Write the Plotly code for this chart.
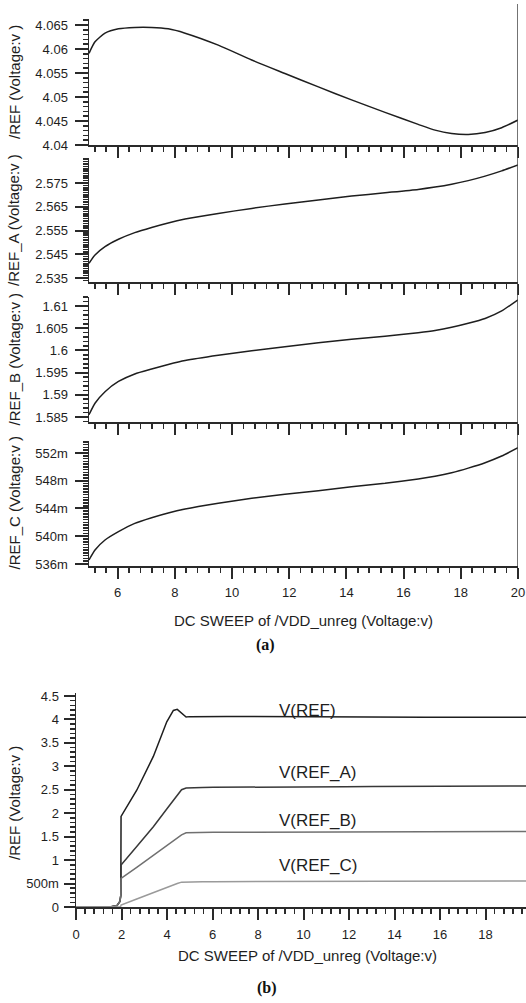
import plotly.graph_objects as go

W, H = 526, 1003

# ---------------- data: panel (a) ----------------
x_sweep = [5.0, 5.21, 5.56, 6.03, 6.6, 7.19, 7.77, 8.36, 9.52, 10.69, 11.85,
           13.02, 14.18, 15.35, 16.51, 17.1, 17.68, 18.26, 18.85, 19.43, 20.0]
v_ref = [4.0591, 4.0615, 4.0633, 4.0642, 4.0645, 4.0645, 4.0642, 4.0633, 4.0608,
         4.0577, 4.0549, 4.0521, 4.0494, 4.0468, 4.0443, 4.0431, 4.0424, 4.0422,
         4.0426, 4.0436, 4.0452]
v_ref_a = [2.5412, 2.5447, 2.5482, 2.5513, 2.5541, 2.5563, 2.5582, 2.5598, 2.5622,
           2.5643, 2.5662, 2.5678, 2.5695, 2.5709, 2.5723, 2.5733, 2.5745, 2.5760,
           2.5779, 2.5801, 2.5826]
v_ref_b = [1.5855, 1.5881, 1.5907, 1.5930, 1.5947, 1.5958, 1.5968, 1.5977, 1.5989,
           1.5999, 1.6008, 1.6017, 1.6025, 1.6032, 1.6040, 1.6045, 1.6052, 1.6061,
           1.6072, 1.6089, 1.6114]
v_ref_c = [0.53658, 0.53802, 0.53946, 0.54066, 0.54186, 0.54267, 0.54335, 0.54392,
           0.54475, 0.54547, 0.54604, 0.54656, 0.54714, 0.54763, 0.54825, 0.54865,
           0.54916, 0.54982, 0.55060, 0.55156, 0.55276]

# ---------------- data: panel (b) start-up part (x < 5) ----------------
x_start = [0.0, 1.5, 1.8, 1.93, 1.97, 1.98, 2.67, 3.40, 3.99, 4.28, 4.45, 4.64, 4.84]
s_ref = [0.0, 0.0, 0.03, 0.12, 0.25, 1.93, 2.49, 3.21, 3.95, 4.19, 4.215, 4.13, 4.05]
s_ref_a = [0.0, 0.0, 0.03, 0.12, 0.25, 0.895, 1.29, 1.71, 2.09, 2.27, 2.37, 2.50, 2.535]
s_ref_b = [0.0, 0.0, 0.03, 0.12, 0.25, 0.61, 0.846, 1.10, 1.31, 1.41, 1.48, 1.54, 1.583]
s_ref_c = [0.0, 0.0, 0.0, 0.0, 0.02, 0.04, 0.17, 0.31, 0.42, 0.47, 0.50, 0.53, 0.535]

# ---------------- tick labels ----------------
xa_tickvals = [6, 8, 10, 12, 14, 16, 18, 20]
xa_ticktext = ["6", "8", "10", "12", "14", "16", "18", "20"]
xb_tickvals = [0, 2, 4, 6, 8, 10, 12, 14, 16, 18, 20]
xb_ticktext = ["0", "2", "4", "6", "8", "10", "12", "14", "16", "18", "20"]
y1_tickvals = [4.04, 4.045, 4.05, 4.055, 4.06, 4.065]
y1_ticktext = ["4.04", "4.045", "4.05", "4.055", "4.06", "4.065"]
y2_tickvals = [2.535, 2.545, 2.555, 2.565, 2.575]
y2_ticktext = ["2.535", "2.545", "2.555", "2.565", "2.575"]
y3_tickvals = [1.585, 1.59, 1.595, 1.6, 1.605, 1.61]
y3_ticktext = ["1.585", "1.59", "1.595", "1.6", "1.605", "1.61"]
y4_tickvals = [0.536, 0.540, 0.544, 0.548, 0.552]
y4_ticktext = ["536m", "540m", "544m", "548m", "552m"]
yb_tickvals = [0, 0.5, 1, 1.5, 2, 2.5, 3, 3.5, 4, 4.5]
yb_ticktext = ["0", "500m", "1", "1.5", "2", "2.5", "3", "3.5", "4", "4.5"]

panel_a_titles = ["/REF (Voltage:v )", "/REF_A (Voltage:v )",
                  "/REF_B (Voltage:v )", "/REF_C (Voltage:v )"]
labels_b = ["V(REF)", "V(REF_A)", "V(REF_B)", "V(REF_C)"]
label_b_y = [4.20, 2.86, 1.855, 0.895]
x_title = "DC SWEEP of /VDD_unreg (Voltage:v)"


# ---------------- helpers ----------------
def px_x(p):
    return p / W


def px_y(p):
    return 1 - p / H


def minor_vals(start, stop, step):
    n = int(round((stop - start) / step))
    return [round(start + k * step, 7) for k in range(n + 1)]


AX = "#2a2a2a"
FONT = "Liberation Sans, Arial, Helvetica, sans-serif"
TICKFONT = dict(family=FONT, size=13, color="#1e1e1e")

fig = go.Figure()

a_series = [v_ref, v_ref_a, v_ref_b, v_ref_c]
for i, ys in enumerate(a_series):
    n = "" if i == 0 else str(i + 1)
    fig.add_trace(go.Scatter(x=x_sweep, y=ys, mode="lines",
                             line=dict(color="#1e1e1e", width=1.5, shape="spline", smoothing=0.6),
                             xaxis="x" + n, yaxis="y" + n, showlegend=False, hoverinfo="skip"))

b_colors = ["#1e1e1e", "#383838", "#707070", "#9a9a9a"]
b_series = [s_ref + v_ref, s_ref_a + v_ref_a, s_ref_b + v_ref_b, s_ref_c + v_ref_c]
xb_full = x_start + x_sweep
for ys, c in zip(b_series, b_colors):
    fig.add_trace(go.Scatter(x=xb_full, y=ys, mode="lines",
                             line=dict(color=c, width=1.5),
                             xaxis="x5", yaxis="y5", showlegend=False, hoverinfo="skip"))


def base_axis(domain, rng, anchor, tv, tt, show, ticklen, standoff, mv):
    d = dict(range=rng, anchor=anchor, tickmode="array",
             tickvals=tv, ticktext=tt, showticklabels=show, ticks="outside",
             ticklen=ticklen, tickwidth=2, tickcolor=AX, showline=True, linecolor=AX,
             linewidth=1.5, showgrid=False, zeroline=False, tickfont=TICKFONT,
             ticklabelstandoff=standoff, automargin=False, fixedrange=True,
             minor=dict(ticks="outside", ticklen=5, tickwidth=1.6, tickcolor=AX,
                        tickmode="array", tickvals=mv, showgrid=False))
    if domain is not None:
        d["domain"] = domain
    return d


def minor_axis(rng, anchor, overlay, mv):
    return dict(range=rng, anchor=anchor, overlaying=overlay, tickmode="array",
                tickvals=mv, showticklabels=False, ticks="outside", ticklen=5,
                tickwidth=1.6, tickcolor=AX, showline=False, showgrid=False,
                zeroline=False, automargin=False, fixedrange=True)


xa_dom = [px_x(89), px_x(518)]
panel_px = [(19, 145), (158, 282), (297, 422), (441, 566), (693, 907)]
x_ranges = [[5, 20]] * 4 + [[0, 450 / 22.75]]
y_ranges = [[4.04, 4.06625], [2.53332, 2.58553], [1.58387, 1.61203], [0.53571, 0.55373],
            [0, 4.563]]
x_ticks = [(xa_tickvals, xa_ticktext)] * 4 + [(xb_tickvals, xb_ticktext)]
y_ticks = [(y1_tickvals, y1_ticktext, minor_vals(4.04, 4.066, 0.001)),
           (y2_tickvals, y2_ticktext, minor_vals(2.534, 2.585, 0.001)),
           (y3_tickvals, y3_ticktext, minor_vals(1.584, 1.612, 0.001)),
           (y4_tickvals, y4_ticktext, minor_vals(0.536, 0.5536, 0.0004)),
           (yb_tickvals, yb_ticktext, minor_vals(0, 4.5, 0.1))]
x_minor = minor_vals(0, 20, 0.4)
x_domains = [xa_dom] * 4 + [[px_x(76), 1.0]]

layout = dict(width=W, height=H, margin=dict(l=0, r=0, t=0, b=0, pad=0, autoexpand=False),
              paper_bgcolor="white", plot_bgcolor="white", showlegend=False)
for i in range(5):
    n = "" if i == 0 else str(i + 1)
    m = str(i + 6)
    top, bot = panel_px[i]
    ydom = [px_y(bot), px_y(top)]
    xtv, xtt = x_ticks[i]
    ytv, ytt, ymv = y_ticks[i]
    show_x = i >= 3
    ylen = 11 if i == 4 else 13
    ystand = 2 if i == 4 else 4
    xstand = 4 if i == 4 else 3
    layout["xaxis" + n] = base_axis(x_domains[i], x_ranges[i], "y" + n, xtv, xtt, show_x, 11,
                                    xstand, x_minor)
    layout["yaxis" + n] = base_axis(ydom, y_ranges[i], "x" + n, ytv, ytt, True, ylen, ystand, ymv)
    # extra tick-only overlay axes carrying the same minor tick marks
    layout["xaxis" + m] = minor_axis(x_ranges[i], "y" + n, "x" + n, x_minor)
    layout["yaxis" + m] = minor_axis(y_ranges[i], "x" + n, "y" + n, ymv)

TFONT = dict(family=FONT, size=15, color="#1e1e1e")
annotations = []
for i, t in enumerate(panel_a_titles):
    top, bot = panel_px[i]
    annotations.append(dict(text=t, xref="paper", yref="paper", x=px_x(14),
                            y=px_y((top + bot) / 2), textangle=-90, showarrow=False,
                            xanchor="center", yanchor="middle", font=TFONT))
annotations.append(dict(text="/REF (Voltage:v )", xref="paper", yref="paper", x=px_x(14),
                        y=px_y(803), textangle=-90, showarrow=False,
                        xanchor="center", yanchor="middle", font=TFONT))
annotations.append(dict(text=x_title, xref="paper", yref="paper", x=px_x(303), y=px_y(620),
                        xanchor="center", yanchor="middle", showarrow=False, font=TFONT))
annotations.append(dict(text=x_title, xref="paper", yref="paper", x=px_x(307), y=px_y(955),
                        xanchor="center", yanchor="middle", showarrow=False, font=TFONT))
SERIF = dict(family="Liberation Serif, Times New Roman, serif", size=16, color="#111111")
annotations.append(dict(text="<b>(a)</b>", xref="paper", yref="paper", x=px_x(265), y=px_y(645),
                        xanchor="center", yanchor="middle", showarrow=False, font=SERIF))
annotations.append(dict(text="<b>(b)</b>", xref="paper", yref="paper", x=px_x(267), y=px_y(988),
                        xanchor="center", yanchor="middle", showarrow=False, font=SERIF))
for lab, ly in zip(labels_b, label_b_y):
    annotations.append(dict(text=lab, xref="x5", yref="y5", x=8.82, y=ly, xanchor="left",
                            yanchor="middle", showarrow=False,
                            font=dict(family=FONT, size=17, color="#1e1e1e")))
layout["annotations"] = annotations

layout["shapes"] = [dict(type="line", xref="x4", yref="paper", x0=20, x1=20,
                         y0=px_y(566), y1=px_y(4), line=dict(color="#444444", width=1.5))]

fig.update_layout(**layout)
fig.write_html("out.html",
               config={"displayModeBar": False, "staticPlot": True},
               post_script="document.body.style.margin='0';"
                           "document.documentElement.style.overflow='hidden';"
                           "document.body.style.overflow='hidden';")
